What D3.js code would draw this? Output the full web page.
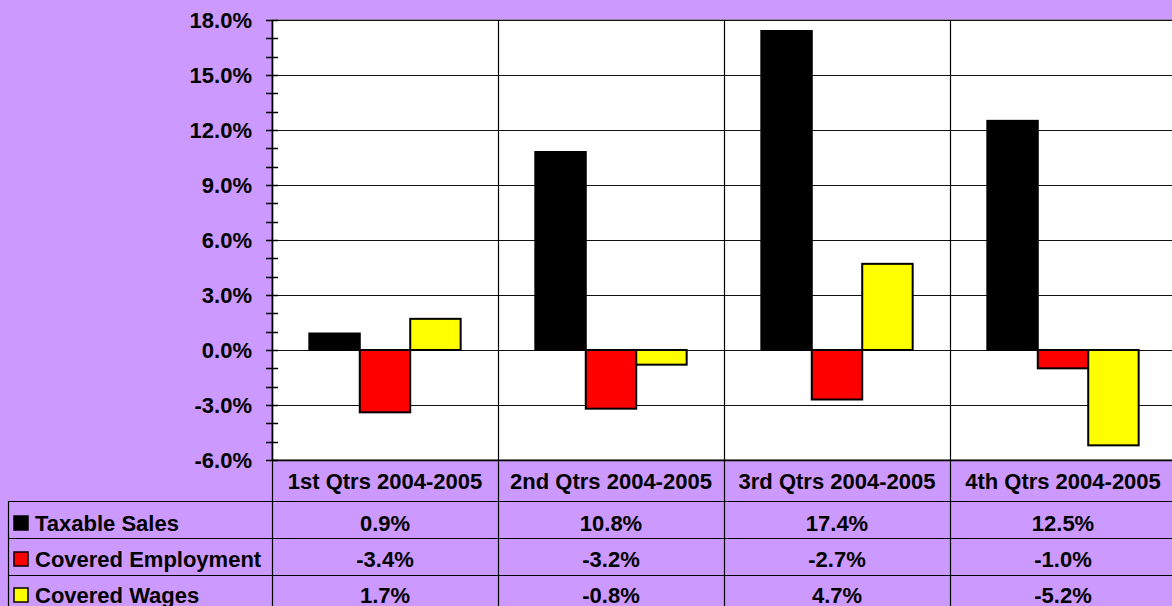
<!DOCTYPE html>
<html>
<head>
<meta charset="utf-8">
<script src="https://cdn.jsdelivr.net/npm/d3@7"></script>
<style>
  body { margin: 0; background: #CC99FF; }
  svg { display: block; }
  text { font-family: "Liberation Sans", Arial, sans-serif; font-weight: bold; font-size: 22px; fill: #000; }
</style>
</head>
<body>
<div id="chart"></div>
<script>
// Chart data
const categories = ['1st Qtrs 2004-2005', '2nd Qtrs 2004-2005', '3rd Qtrs 2004-2005', '4th Qtrs 2004-2005'];
const seriesNames = ['Taxable Sales', 'Covered Employment', 'Covered Wages'];
const taxableSales = [0.9, 10.8, 17.4, 12.5];
const coveredEmployment = [-3.4, -3.2, -2.7, -1.0];
const coveredWages = [1.7, -0.8, 4.7, -5.2];
const seriesColors = ['#000000', '#FF0000', '#FFFF00'];
const yTickValues = [-6, -3, 0, 3, 6, 9, 12, 15, 18];
const yMinorValues = d3.range(-6, 19, 1);

const seriesValues = [taxableSales, coveredEmployment, coveredWages];

const svgWidth = 1172;
const svgHeight = 606;
const plot = {left: 272, right: 1176, top: 20, bottom: 460};
const table = {left: 8, top: 501, rowHeight: 37, textTop: 523, textStep: 36};

const formatPct = d => d.toFixed(1) + '%';

const svg = d3.select('#chart').append('svg')
    .attr('width', svgWidth)
    .attr('height', svgHeight);

// Scales
const x = d3.scaleBand().domain(categories).range([plot.left, plot.right]).padding(0);
const xInner = d3.scaleBand().domain(seriesNames).range([0, x.bandwidth()])
    .paddingInner(0).paddingOuter(0.74);
const y = d3.scaleLinear().domain([-6, 18]).range([plot.bottom, plot.top]);

// Plot area background
svg.append('rect')
    .attr('x', plot.left).attr('y', plot.top)
    .attr('width', plot.right - plot.left).attr('height', plot.bottom - plot.top)
    .attr('fill', '#fff')
    .attr('stroke', '#808080')
    .attr('stroke-width', 1.5);

// Horizontal grid lines
svg.append('g')
    .selectAll('line')
    .data(yTickValues)
    .join('line')
    .attr('x1', plot.left).attr('x2', plot.right)
    .attr('y1', d => Math.round(y(d)) + 0.5).attr('y2', d => Math.round(y(d)) + 0.5)
    .attr('stroke', '#111').attr('stroke-width', 1);

// Vertical category separators (plot + table header + rows)
svg.append('g')
    .selectAll('line')
    .data(categories)
    .join('line')
    .attr('x1', d => Math.round(x(d)) + 0.5).attr('x2', d => Math.round(x(d)) + 0.5)
    .attr('y1', plot.top).attr('y2', svgHeight)
    .attr('stroke', '#000').attr('stroke-width', 1.2);

// Bars
const groups = svg.append('g')
    .selectAll('g')
    .data(seriesNames)
    .join('g');

groups.selectAll('rect')
    .data((s, si) => categories.map((c, ci) => ({series: s, si, cat: c, value: seriesValues[si][ci]})))
    .join('rect')
    .attr('x', d => x(d.cat) + xInner(d.series))
    .attr('width', xInner.bandwidth())
    .attr('y', d => y(Math.max(0, d.value)))
    .attr('height', d => Math.abs(y(d.value) - y(0)))
    .attr('fill', d => seriesColors[d.si])
    .attr('stroke', '#000')
    .attr('stroke-width', 2);

// Axis lines
svg.append('line')
    .attr('x1', plot.left + 0.5).attr('x2', plot.left + 0.5)
    .attr('y1', plot.top).attr('y2', plot.bottom)
    .attr('stroke', '#000').attr('stroke-width', 1.5);
svg.append('line')
    .attr('x1', plot.left).attr('x2', plot.right)
    .attr('y1', plot.bottom + 0.5).attr('y2', plot.bottom + 0.5)
    .attr('stroke', '#000').attr('stroke-width', 1.5);

// Minor and major tick marks (crossing the axis)
svg.append('g')
    .selectAll('line')
    .data(yMinorValues)
    .join('line')
    .attr('x1', plot.left - 6).attr('x2', plot.left + 6)
    .attr('y1', d => Math.round(y(d)) + 0.5).attr('y2', d => Math.round(y(d)) + 0.5)
    .attr('stroke', '#000').attr('stroke-width', 1.5);

// Value axis labels
svg.append('g')
    .attr('transform', 'translate(' + plot.left + ',0)')
    .call(d3.axisLeft(y)
        .tickValues(yTickValues)
        .tickSize(0)
        .tickPadding(20)
        .tickFormat(formatPct))
    .call(g => g.select('.domain').remove())
    .call(g => g.selectAll('text')
        .attr('font-size', null)
        .attr('font-family', null)
        .style('font-size', '22px')
        .style('font-weight', 'bold')
        .style('font-family', '"Liberation Sans", Arial, sans-serif'));

// Category labels (table header row)
svg.append('g')
    .selectAll('text')
    .data(categories)
    .join('text')
    .attr('x', d => x(d) + x.bandwidth() / 2)
    .attr('y', 481)
    .attr('dy', '0.35em')
    .attr('text-anchor', 'middle')
    .text(d => d);

// Data table borders
svg.append('line')
    .attr('x1', table.left).attr('x2', svgWidth)
    .attr('y1', table.top + 0.5).attr('y2', table.top + 0.5)
    .attr('stroke', '#000').attr('stroke-width', 1.2);
svg.append('line')
    .attr('x1', table.left + 0.5).attr('x2', table.left + 0.5)
    .attr('y1', table.top).attr('y2', svgHeight)
    .attr('stroke', '#000').attr('stroke-width', 1.2);
svg.append('g')
    .selectAll('line')
    .data(seriesNames.slice(1))
    .join('line')
    .attr('x1', table.left).attr('x2', svgWidth)
    .attr('y1', (d, i) => table.top + (i + 1) * table.rowHeight + 0.5)
    .attr('y2', (d, i) => table.top + (i + 1) * table.rowHeight + 0.5)
    .attr('stroke', '#000').attr('stroke-width', 1.2);

// Table rows: legend key, series name, values
const rows = svg.append('g')
    .selectAll('g')
    .data(seriesNames)
    .join('g')
    .attr('transform', (d, i) => 'translate(0,' + (table.textTop + i * table.textStep) + ')');

rows.append('rect')
    .attr('x', 14).attr('y', -7)
    .attr('width', 14).attr('height', 14)
    .attr('fill', (d, i) => seriesColors[i])
    .attr('stroke', '#000')
    .attr('stroke-width', 1.5);

rows.append('text')
    .attr('x', 35)
    .attr('dy', '0.35em')
    .text(d => d);

rows.selectAll('text.value')
    .data((s, si) => seriesValues[si].map((v, ci) => ({v, cat: categories[ci]})))
    .join('text')
    .attr('class', 'value')
    .attr('x', d => x(d.cat) + x.bandwidth() / 2)
    .attr('dy', '0.35em')
    .attr('text-anchor', 'middle')
    .text(d => formatPct(d.v));
</script>
</body>
</html>
